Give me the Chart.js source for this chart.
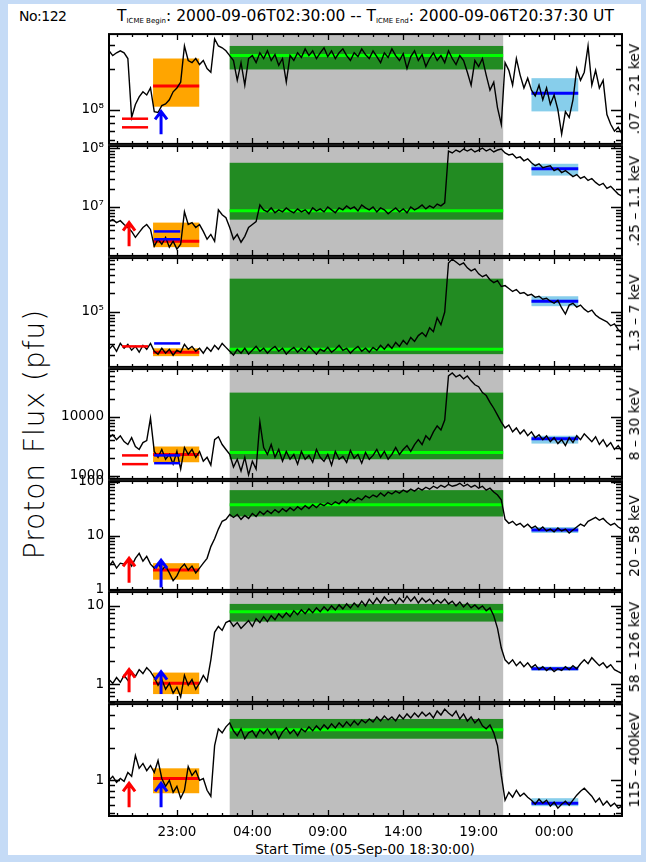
<!DOCTYPE html>
<html>
<head>
<meta charset="utf-8">
<title>Proton Flux No:122</title>
<script src="https://cdn.jsdelivr.net/npm/chart.js@4.4.1/dist/chart.umd.min.js"></script>
<style>
html,body{margin:0;padding:0}
body{width:646px;height:862px;position:relative;overflow:hidden;background:#c5dbf6;font-family:"DejaVu Sans",sans-serif;color:#000}
#sheet{position:absolute;left:8px;top:4px;width:633px;height:851px;background:#fff}
canvas{position:absolute;left:0}
.txt{position:absolute;white-space:nowrap;line-height:1}
.vert{position:absolute;white-space:nowrap;line-height:1;transform:translate(-50%,-50%) rotate(-90deg)}
sub{font-size:7px;vertical-align:-2px}
</style>
</head>
<body>
<div id="sheet"></div>
<div class="txt" style="left:19px;top:9px;font-size:14px;letter-spacing:-0.5px">No:122</div>
<div class="txt" style="left:117px;top:9px;font-size:15.5px">T<sub>ICME Begin</sub>: 2000-09-06T02:30:00 -- T<sub>ICME End</sub>: 2000-09-06T20:37:30 UT</div>
<div class="vert" style="left:35px;top:434px;font-size:28px;font-weight:200;letter-spacing:1px">Proton Flux (pfu)</div>
<div class="txt" style="left:365px;top:843px;font-size:13.5px;transform:translateX(-50%)">Start Time (05-Sep-00 18:30:00)</div>
<script>
// ---------------- data ----------------
const hours = [0,0.25,0.5,0.75,1,1.25,1.5,1.75,2,2.25,2.5,2.75,3,3.25,3.5,3.75,4,4.25,4.5,4.75,5,5.25,5.5,5.75,6,6.25,6.5,6.75,7,7.25,7.5,7.75,8,8.25,8.5,8.75,9,9.25,9.5,9.75,10,10.25,10.5,10.75,11,11.25,11.5,11.75,12,12.25,12.5,12.75,13,13.25,13.5,13.75,14,14.25,14.5,14.75,15,15.25,15.5,15.75,16,16.25,16.5,16.75,17,17.25,17.5,17.75,18,18.25,18.5,18.75,19,19.25,19.5,19.75,20,20.25,20.5,20.75,21,21.25,21.5,21.75,22,22.25,22.5,22.75,23,23.25,23.5,23.75,24,24.25,24.5,24.75,25,25.25,25.5,25.75,26,26.25,26.5,26.75,27,27.25,27.5,27.75,28,28.25,28.5,28.75,29,29.25,29.5,29.75,30,30.25,30.5,30.75,31,31.25,31.5,31.75,32,32.25,32.5,32.75,33,33.25,33.5,33.75,34];

const p1Flux = [
2.70e8,2.49e8,2.61e8,2.70e8,2.61e8,2.37e8,8.76e7,1.09e8,
1.24e8,1.35e8,1.28e8,1.44e8,9.67e7,9.52e7,1.07e8,1.10e8,
1.18e8,1.35e8,1.44e8,1.59e8,2.93e8,2.29e8,2.21e8,2.37e8,
2.14e8,2.29e8,2.00e8,1.88e8,3.30e8,2.93e8,2.84e8,2.70e8,
2.49e8,2.29e8,1.64e8,2.21e8,1.51e8,2.37e8,2.49e8,2.21e8,
2.61e8,2.37e8,2.70e8,2.29e8,2.53e8,2.11e8,2.37e8,1.59e8,
2.49e8,2.29e8,2.61e8,2.41e8,2.79e8,2.49e8,2.70e8,2.37e8,
2.61e8,2.84e8,2.45e8,2.70e8,2.37e8,2.61e8,2.79e8,2.49e8,
2.29e8,2.61e8,2.45e8,2.79e8,2.53e8,2.37e8,2.70e8,2.45e8,
2.21e8,2.61e8,2.41e8,2.79e8,2.49e8,2.29e8,2.57e8,2.00e8,
2.45e8,2.70e8,2.29e8,2.53e8,2.07e8,2.37e8,2.61e8,2.29e8,
2.49e8,2.21e8,2.70e8,2.37e8,2.14e8,2.49e8,2.29e8,1.88e8,
1.51e8,2.29e8,2.07e8,2.37e8,1.79e8,1.39e8,1.59e8,1.03e8,
7.80e7,2.21e8,1.94e8,1.51e8,2.37e8,1.79e8,1.44e8,1.70e8,
1.39e8,1.26e8,1.51e8,1.18e8,1.44e8,1.09e8,1.28e8,1.00e8,
6.61e7,9.67e7,8.76e7,1.18e8,2.00e8,1.64e8,1.88e8,2.93e8,
1.51e8,1.94e8,1.44e8,1.64e8,9.20e7,7.80e7,6.95e7,7.42e7,
6.61e7];

const p2Flux = [
5.62e6,6.07e6,5.41e6,5.84e6,5.01e6,4.47e6,3.83e6,3.04e6,
3.69e6,4.47e6,5.01e6,4.14e6,2.15e6,2.82e6,2.32e6,3.04e6,
2.07e6,2.61e6,1.92e6,2.32e6,8.25e6,5.01e6,5.41e6,4.47e6,
5.01e6,3.83e6,2.82e6,3.41e6,2.61e6,8.91e6,7.36e6,6.56e6,
4.47e6,2.82e6,3.41e6,2.51e6,3.16e6,4.47e6,5.01e6,5.62e6,
1.08e7,8.91e6,8.25e6,9.62e6,7.94e6,8.91e6,8.25e6,9.62e6,
8.58e6,7.94e6,9.26e6,8.25e6,8.91e6,7.64e6,9.62e6,8.58e6,
9.26e6,8.25e6,1.00e7,8.91e6,7.94e6,9.62e6,8.91e6,1.04e7,
9.26e6,1.00e7,8.58e6,1.08e7,9.62e6,8.91e6,1.00e7,8.25e6,
9.62e6,8.91e6,7.64e6,8.58e6,9.62e6,8.25e6,9.26e6,7.94e6,
1.00e7,8.91e6,9.62e6,1.08e7,9.26e6,1.04e7,9.62e6,1.12e7,
1.04e7,1.17e7,8.91e7,8.25e7,9.26e7,8.58e7,9.62e7,8.91e7,
9.62e7,8.58e7,9.26e7,1.00e8,8.91e7,9.62e7,8.58e7,9.26e7,
9.62e7,8.25e7,7.65e7,7.94e7,6.81e7,7.08e7,6.07e7,6.56e7,
5.62e7,5.01e7,5.41e7,4.64e7,4.83e7,5.01e7,4.14e7,4.47e7,
3.83e7,4.14e7,3.69e7,3.28e7,3.55e7,3.04e7,3.28e7,2.82e7,
3.04e7,2.61e7,2.33e7,2.51e7,2.07e7,2.24e7,1.92e7,1.65e7,
1.52e7];

const p3Flux = [
2.47e4,2.86e4,2.29e4,3.07e4,2.56e4,2.96e4,2.38e4,2.75e4,
2.21e4,2.86e4,2.47e4,3.07e4,2.29e4,2.06e4,2.56e4,2.13e4,
2.47e4,1.98e4,2.38e4,2.21e4,2.96e4,2.47e4,2.75e4,2.29e4,
2.56e4,2.13e4,2.65e4,2.29e4,2.86e4,2.47e4,3.07e4,2.65e4,
2.29e4,1.98e4,2.47e4,2.13e4,2.56e4,2.06e4,2.38e4,2.75e4,
2.29e4,2.56e4,2.13e4,2.47e4,2.75e4,2.29e4,2.56e4,2.06e4,
2.38e4,2.65e4,2.21e4,2.56e4,2.29e4,2.75e4,2.38e4,2.06e4,
2.47e4,2.29e4,2.65e4,2.21e4,2.47e4,2.86e4,2.38e4,2.56e4,
2.13e4,2.47e4,2.75e4,2.29e4,2.56e4,2.21e4,2.65e4,2.38e4,
2.86e4,2.47e4,2.96e4,2.56e4,3.18e4,2.75e4,3.43e4,2.96e4,
3.83e4,3.30e4,4.11e4,4.59e4,3.97e4,5.51e4,4.76e4,7.95e4,
6.15e4,9.89e4,6.15e5,7.11e5,6.38e5,5.72e5,6.15e5,5.13e5,
4.59e5,4.94e5,4.11e5,3.69e5,3.96e5,3.30e5,2.96e5,3.19e5,
2.56e5,2.65e5,2.38e5,2.13e5,2.29e5,1.98e5,2.05e5,1.84e5,
1.91e5,1.71e5,1.78e5,1.59e5,1.65e5,1.48e5,1.37e5,1.53e5,
1.15e5,9.19e4,1.28e5,1.37e5,1.19e5,1.28e5,1.10e5,9.89e4,
1.06e5,8.87e4,7.95e4,7.38e4,6.87e4,5.93e4,6.38e4,5.13e4,
4.43e4];

const p4Flux = [
4420,4950,4090,4770,3790,3380,4420,3130,
2790,3650,3940,9510,2580,2050,2790,1900,
2300,1570,2580,1290,3010,2300,2790,2050,
2580,1760,2050,1510,4090,4590,3380,2790,
2300,1400,1900,1200,2050,1030,1760,1290,
8160,3010,2300,3380,2050,2790,1760,2580,
1900,2300,1570,2580,1900,2210,1690,2790,
2050,1760,2300,1510,2580,1900,2130,1690,
2680,1970,2300,1630,2480,1900,2210,2790,
2050,2580,1900,2300,3010,2300,2790,3250,
2580,3380,4090,3380,4770,4090,5560,7000,
6000,8810,49500,55600,47700,51500,44200,49500,
40900,35100,32500,25800,23000,17600,14000,10700,
8160,6480,7270,5560,6480,5150,6000,4770,
5560,4420,4950,4090,4770,3790,4420,3510,
4090,3250,4420,3650,4770,4090,5150,4420,
3790,4590,3380,4090,3130,3650,2790,3250,
2580];

const p5Flux = [
2.73,3.36,2.51,3.09,2.97,3.50,2.73,3.80,
4.68,3.36,4.13,2.97,2.51,3.09,2.31,2.73,
2.04,1.47,1.80,2.51,2.97,2.31,2.73,2.04,
2.51,3.09,3.80,6.26,8.73,13.2,18.4,20.0,
24.6,21.7,24.6,20.0,23.6,20.8,25.7,22.6,
27.9,24.6,29.0,25.7,30.3,26.7,31.6,27.9,
32.9,29.0,34.3,30.3,35.7,31.6,37.2,32.9,
38.8,35.7,40.5,37.2,42.2,38.8,45.8,40.5,
47.8,44.0,49.8,45.8,54.1,49.8,56.4,51.9,
61.3,54.1,63.9,58.8,66.6,61.3,69.4,63.9,
72.3,66.6,75.4,69.4,78.6,72.3,81.9,75.4,
85.4,78.6,89.1,81.9,85.4,92.8,81.9,89.1,
78.6,85.4,75.4,81.9,69.4,75.4,63.9,56.4,
45.8,20.0,16.9,18.4,15.6,16.9,14.4,16.3,
13.8,15.0,12.7,14.4,12.2,13.2,11.7,13.8,
12.2,13.2,11.2,12.7,14.4,16.3,15.0,18.4,
20.0,21.7,19.2,20.8,17.7,15.6,16.9,14.4,
13.2];

const p6Flux = [
1.15,1.03,1.22,1.06,1.30,1.12,1.45,1.26,
1.54,1.37,1.63,1.45,1.22,0.972,1.15,0.866,
1.03,0.772,0.917,0.688,1.30,0.972,1.15,0.866,
1.03,1.30,1.09,2.05,4.60,5.47,4.87,6.13,
6.49,5.47,6.13,5.16,5.79,6.49,5.47,6.88,
6.13,7.29,6.31,7.50,6.68,7.94,7.08,8.18,
7.29,8.66,7.72,8.91,7.94,9.17,8.18,9.44,
8.41,9.72,8.66,10.0,8.91,10.3,9.17,10.6,
9.44,10.9,9.72,11.5,10.0,12.2,10.6,12.6,
10.9,13.0,11.5,12.2,10.6,12.6,11.2,13.3,
11.5,13.0,10.9,12.6,11.2,12.2,10.6,11.9,
10.9,12.2,10.6,11.5,10.0,11.2,9.72,10.9,
9.44,10.3,9.17,10.0,8.66,9.44,7.50,5.16,
2.90,2.05,1.83,2.05,1.73,1.94,1.68,1.88,
1.63,1.78,1.54,1.68,1.50,1.63,1.45,1.58,
1.50,1.68,1.54,1.73,1.58,1.83,2.05,1.83,
2.18,1.94,1.73,1.88,1.63,1.78,1.54,1.45,
1.37];

const p7Flux = [
1.00,1.09,0.959,1.04,0.979,1.18,1.09,1.69,
1.29,1.43,1.23,1.37,1.18,1.52,1.04,0.882,
1.00,0.778,0.882,0.686,0.811,1.34,1.11,1.23,
1.00,1.04,0.811,0.715,2.08,2.97,2.73,3.10,
3.37,2.85,2.57,2.97,2.41,2.73,2.85,2.51,
2.91,2.68,2.97,2.62,2.85,2.41,2.79,3.03,
2.68,2.91,2.57,2.97,2.79,3.10,2.85,3.16,
2.91,3.23,2.97,3.30,3.03,3.37,3.10,3.44,
3.16,3.51,3.23,3.59,3.37,3.66,3.44,3.82,
3.51,3.90,3.59,3.82,3.51,3.98,3.66,4.07,
3.74,4.15,3.82,4.24,3.90,4.15,3.74,4.33,
3.98,4.51,4.15,3.90,4.33,3.66,4.07,3.51,
3.82,3.37,3.66,3.16,2.97,3.23,2.73,2.08,
1.11,0.658,0.778,0.701,0.811,0.715,0.762,0.701,
0.658,0.605,0.672,0.618,0.658,0.580,0.631,0.556,
0.605,0.644,0.592,0.658,0.731,0.794,0.846,0.778,
0.715,0.631,0.686,0.592,0.644,0.580,0.618,0.556,
0.580];

const fluxSeries = [p1Flux,p2Flux,p3Flux,p4Flux,p5Flux,p6Flux,p7Flux];
const energyBands = ['.07 \u2013 .21 keV','.25 \u2013 1.1 keV','1.3 \u2013 7 keV','8 \u2013 30 keV','20 \u2013 58 keV','58 \u2013 126 keV','115 \u2013 400keV'];

const yMin = [5.60e7,1.47e6,1.28e4,881,0.99,0.596,0.471];
const yMax = [3.58e8,1.08e8,7.38e5,6.48e4,102,15.0,5.01];
const yMajor = [[1e8],[1e7,1e8],[1e5],[1e3,1e4],[1,10,100],[1,10],[1]];
const yMajorLabels = [['10\u2078'],['10\u2077','10\u2078'],['10\u2075'],['1000','10000'],['1','10','100'],['1','10'],['1']];

const xTickHours = [4.5,9.5,14.5,19.5,24.5,29.5];
const xTickLabels = ['23:00','04:00','09:00','14:00','19:00','00:00'];

const icmeHours = [8,26.125];
const preWindow = [2.92,5.98];
const postWindow = [28.0,31.1];
const redMarkWindow = [0.86,2.59];
const blueMarkWindow = [2.99,4.72];
const redArrowHour = 1.33;
const blueArrowHour = 3.45;

const icmeBandLo = [1.97e8,6.07e6,2.06e4,1.90e3,22.6,6.31,2.41];
const icmeBandHi = [2.93e8,5.62e7,3.43e5,2.58e4,69.4,10.6,3.66];
const icmeLevel  = [2.49e8,8.58e6,2.47e4,2.48e3,37.2,8.41,2.91];
const preBoxLo   = [1.05e8,2.07e6,1.91e4,1.69e3,1.53,0.75,0.762];
const preBoxHi   = [2.37e8,5.41e6,2.56e4,3.13e3,3.09,1.41,1.29];
const preLevel   = [1.49e8,2.61e6,2.21e4,2.30e3,2.31,1.03,1.04];
const postBoxLo  = [9.7e7,3.41e7,1.23e5,3.51e3,11.2,1.50,0.580];
const postBoxHi  = [1.70e8,5.41e7,1.78e5,4.77e3,14.4,1.68,0.686];
const postLevel  = [1.32e8,4.47e7,1.48e5,4.25e3,12.7,1.58,0.618];
const redMarks   = [[8.57e7,7.41e7],[],[2.75e4],[2.21e3,1.57e3],[],[],[]];
const blueMarks  = [[],[3.83e6,2.82e6],[3.07e4],[2.21e3,1.63e3],[],[],[]];
const redArrows  = [null,[2.15e6,5.41e6],null,null,[1.34,3.80],[0.794,1.54],[0.568,0.939]];
const blueArrows = [[6.6e7,9.7e7],null,null,null,[1.10,3.50],[0.75,1.45],[0.568,0.939]];

// ---------------- layout ----------------
const panelEdges = [33,145,257,368,480,591,703,816];
const W = 646, PLOT_LEFT = 109, PLOT_RIGHT = 622, Y_AXIS_W = 50, M = 12, XAXIS_H = 26;
const FONT = "'DejaVu Sans', sans-serif";
Chart.defaults.font.family = FONT;
Chart.defaults.color = '#000';

const decor = {
  id: 'decor',
  beforeDatasetsDraw(chart, args, o) {
    const i = o.panel, ctx = chart.ctx, a = chart.chartArea;
    const xs = chart.scales.x, ys = chart.scales.y;
    const X = v => xs.getPixelForValue(v), Y = v => ys.getPixelForValue(v);
    ctx.save();
    ctx.beginPath(); ctx.rect(a.left, a.top, a.right - a.left, a.bottom - a.top); ctx.clip();
    const box = (w, lo, hi, c) => { ctx.fillStyle = c; const y1 = Y(hi), y2 = Y(lo); ctx.fillRect(X(w[0]), y1, X(w[1]) - X(w[0]), y2 - y1); };
    const hl = (w, v, c, lw) => { ctx.strokeStyle = c; ctx.lineWidth = lw; ctx.beginPath(); ctx.moveTo(X(w[0]), Y(v)); ctx.lineTo(X(w[1]), Y(v)); ctx.stroke(); };
    ctx.fillStyle = '#bebebe';
    ctx.fillRect(X(icmeHours[0]), a.top, X(icmeHours[1]) - X(icmeHours[0]), a.bottom - a.top);
    box(icmeHours, icmeBandLo[i], icmeBandHi[i], '#228b22');
    box(preWindow, preBoxLo[i], preBoxHi[i], '#ffa500');
    box(postWindow, postBoxLo[i], postBoxHi[i], '#87ceeb');
    hl(icmeHours, icmeLevel[i], '#00ff00', 3);
    hl(preWindow, preLevel[i], '#ff0000', 3);
    hl(postWindow, postLevel[i], '#0000ff', 3);
    ctx.restore();
  },
  afterDatasetsDraw(chart, args, o) {
    const i = o.panel, ctx = chart.ctx, a = chart.chartArea;
    const xs = chart.scales.x, ys = chart.scales.y;
    const X = v => xs.getPixelForValue(v), Y = v => ys.getPixelForValue(v);
    ctx.save();
    const hl = (w, v, c, lw) => { ctx.strokeStyle = c; ctx.lineWidth = lw; ctx.beginPath(); ctx.moveTo(X(w[0]), Y(v)); ctx.lineTo(X(w[1]), Y(v)); ctx.stroke(); };
    redMarks[i].forEach(v => hl(redMarkWindow, v, '#ff0000', 2.5));
    blueMarks[i].forEach(v => hl(blueMarkWindow, v, '#0000ff', 2.5));
    const arrow = (hx, r, c) => {
      if (!r) return;
      const px = X(hx), y0 = Y(r[0]), y1 = Y(r[1]);
      ctx.strokeStyle = c; ctx.lineWidth = 3; ctx.lineCap = 'butt';
      ctx.beginPath(); ctx.moveTo(px, y0); ctx.lineTo(px, y1 + 1);
      ctx.moveTo(px - 6, y1 + 8); ctx.lineTo(px, y1); ctx.lineTo(px + 6, y1 + 8);
      ctx.stroke();
    };
    arrow(redArrowHour, redArrows[i], '#ff0000');
    arrow(blueArrowHour, blueArrows[i], '#0000ff');
    // ticks
    ctx.strokeStyle = '#000'; ctx.lineWidth = 1.3;
    ctx.beginPath();
    const e0 = Math.floor(Math.log10(ys.min)), e1 = Math.ceil(Math.log10(ys.max));
    for (let e = e0; e <= e1; e++) {
      for (let m = 1; m <= 9; m++) {
        const v = m * Math.pow(10, e);
        if (v < ys.min || v > ys.max) continue;
        const len = m === 1 ? 11 : 6, py = Math.round(Y(v)) + 0.5;
        ctx.moveTo(a.left, py); ctx.lineTo(a.left + len, py);
        ctx.moveTo(a.right, py); ctx.lineTo(a.right - len, py);
      }
    }
    for (let hh = 0.5; hh < 34; hh += 1) {
      const major = xTickHours.indexOf(hh) >= 0, len = major ? 6 : 3, px = Math.round(X(hh)) + 0.5;
      ctx.moveTo(px, a.top); ctx.lineTo(px, a.top + len);
      ctx.moveTo(px, a.bottom); ctx.lineTo(px, a.bottom - len);
    }
    ctx.stroke();
    ctx.lineWidth = 2;
    ctx.strokeRect(a.left, a.top, a.right - a.left, a.bottom - a.top);
    ctx.restore();
  }
};

function makePanel(i) {
  const top = panelEdges[i], bottom = panelEdges[i + 1];
  const isLast = i === fluxSeries.length - 1;
  const cv = document.createElement('canvas');
  cv.width = W;
  cv.height = bottom - top + 2 * M + (isLast ? XAXIS_H : 0);
  cv.style.top = (top - M) + 'px';
  document.body.appendChild(cv);
  new Chart(cv, {
    type: 'line',
    data: { datasets: [{
      data: hours.map((t, k) => ({ x: t, y: fluxSeries[i][k] })),
      borderColor: '#000', borderWidth: 1.4, pointRadius: 0, tension: 0, fill: false
    }] },
    options: {
      responsive: false, animation: false, devicePixelRatio: 1,
      layout: { padding: { left: PLOT_LEFT - Y_AXIS_W, right: W - PLOT_RIGHT, top: M, bottom: M } },
      plugins: { legend: { display: false }, tooltip: { enabled: false }, decor: { panel: i } },
      events: [],
      scales: {
        x: {
          type: 'linear', min: 0, max: 34, bounds: 'data', display: isLast,
          grid: { display: false, drawTicks: false }, border: { display: false },
          afterBuildTicks: s => { s.ticks = xTickHours.map(v => ({ value: v })); },
          afterFit: s => { s.height = isLast ? XAXIS_H : 0; },
          ticks: { autoSkip: false, maxRotation: 0, padding: 8, font: { size: 13.5 }, color: '#000',
                   callback: (v, idx) => xTickLabels[idx] }
        },
        y: {
          type: 'logarithmic', min: yMin[i], max: yMax[i], bounds: 'data',
          grid: { display: false, drawTicks: false }, border: { display: false },
          afterBuildTicks: s => { s.ticks = yMajor[i].map(v => ({ value: v })); },
          afterFit: s => { s.width = Y_AXIS_W; },
          ticks: { autoSkip: false, padding: 5, font: { size: 13.5 }, color: '#000',
                   callback: (v, idx) => yMajorLabels[i][idx] }
        }
      }
    },
    plugins: [decor]
  });
  const lab = document.createElement('div');
  lab.className = 'vert';
  lab.style.left = '634px';
  lab.style.top = ((top + bottom) / 2) + 'px';
  lab.style.fontSize = '14px';
  lab.textContent = energyBands[i];
  document.body.appendChild(lab);
}
fluxSeries.forEach((s, i) => makePanel(i));
</script>
</body>
</html>
